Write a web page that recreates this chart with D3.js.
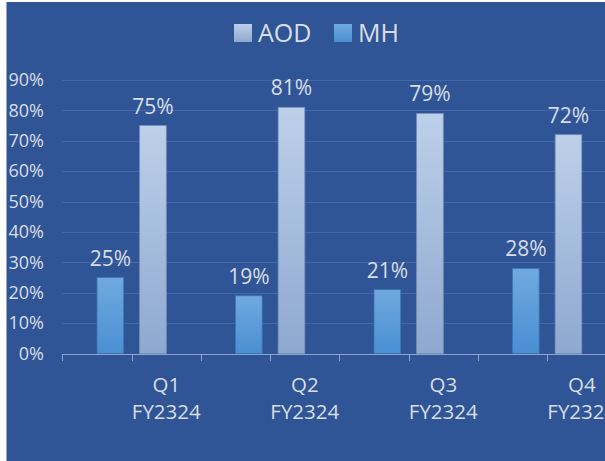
<!DOCTYPE html>
<html>
<head>
<meta charset="utf-8">
<script src="https://cdn.jsdelivr.net/npm/d3@7"></script>
<style>
  body { margin: 0; background: #fff; }
  svg text { font-family: "Open Sans", sans-serif; fill: #d9dde5; }
</style>
</head>
<body>
<div id="chart"></div>
<script>
var quarters = ['Q1', 'Q2', 'Q3', 'Q4'];
var quarterSub = 'FY2324';
var seriesNames = ['MH', 'AOD'];
var mhValues = [0.25, 0.19, 0.21, 0.28];
var aodValues = [0.75, 0.81, 0.79, 0.72];
var yTicks = [0, 0.1, 0.2, 0.3, 0.4, 0.5, 0.6, 0.7, 0.8, 0.9];
var legendOrder = ['AOD', 'MH'];

var width = 605;
var height = 461;

var svg = d3.select('#chart')
    .append('svg')
    .attr('width', width)
    .attr('height', height);

// gradients for the bars
var defs = svg.append('defs');
function gradient(id, top, bottom) {
    var g = defs.append('linearGradient')
        .attr('id', id)
        .attr('x1', 0).attr('y1', 0)
        .attr('x2', 0).attr('y2', 1);
    g.append('stop').attr('offset', '0%').attr('stop-color', top);
    g.append('stop').attr('offset', '100%').attr('stop-color', bottom);
}
gradient('grad_MH', '#70a9df', '#4a8fd3');
gradient('grad_AOD', '#bdd0ea', '#8ea8cf');

var colors = { MH: 'url(#grad_MH)', AOD: 'url(#grad_AOD)' };
var strokes = { MH: '#3c76b4', AOD: '#7a93bd' };

// background with thin white border on top/left
svg.append('rect')
    .attr('x', 0).attr('y', 0)
    .attr('width', width).attr('height', height)
    .style('fill', '#ffffff');
svg.append('rect')
    .attr('x', 6).attr('y', 2)
    .attr('width', width - 6).attr('height', height - 2)
    .style('fill', '#2f5597');
svg.append('line')
    .attr('x1', 6.5).attr('x2', 6.5)
    .attr('y1', 2).attr('y2', height)
    .style('stroke', '#9aa4b4')
    .style('stroke-width', 1);

var x0 = d3.scaleBand()
    .domain(quarters)
    .range([62.4, 616.4])
    .paddingInner(0.5)
    .paddingOuter(0.25);

var x1 = d3.scaleBand()
    .domain(seriesNames)
    .range([0, x0.bandwidth()])
    .paddingInner(0.376);

var y = d3.scaleLinear()
    .domain([0, 0.9])
    .range([353.5, 80]);

var axisLeft = x0.range()[0];

// gridlines
svg.append('g')
    .selectAll('line')
    .data(yTicks.filter(function(d) { return d > 0; }))
    .enter()
    .append('line')
    .attr('x1', axisLeft)
    .attr('x2', width)
    .attr('y1', function(d) { return Math.round(y(d)) + 0.5; })
    .attr('y2', function(d) { return Math.round(y(d)) + 0.5; })
    .style('stroke', '#4469aa')
    .style('stroke-width', 1);

// y axis labels
var yAxis = d3.axisLeft(y)
    .tickValues(yTicks)
    .tickSize(0)
    .tickPadding(0)
    .tickFormat(d3.format('.0%'));

var yg = svg.append('g')
    .attr('transform', 'translate(44,0)')
    .call(yAxis);
yg.select('.domain').remove();
yg.selectAll('text')
    .attr('font-size', '18px')
    .style('fill', '#d9dde5');

// bars
var rows = quarters.map(function(q, i) {
    return { quarter: q, MH: mhValues[i], AOD: aodValues[i] };
});

var groups = svg.append('g')
    .selectAll('g')
    .data(rows)
    .enter()
    .append('g')
    .attr('transform', function(d) { return 'translate(' + x0(d.quarter) + ',0)'; });

groups.selectAll('rect')
    .data(function(d) {
        return seriesNames.map(function(s) { return { key: s, value: d[s] }; });
    })
    .enter()
    .append('rect')
    .attr('x', function(d) { return x1(d.key); })
    .attr('width', x1.bandwidth())
    .attr('y', function(d) { return y(d.value); })
    .attr('height', function(d) { return y(0) - y(d.value); })
    .style('fill', function(d) { return colors[d.key]; })
    .style('stroke', function(d) { return strokes[d.key]; })
    .style('stroke-width', 0.8);

// value labels
groups.selectAll('text')
    .data(function(d) {
        return seriesNames.map(function(s) { return { key: s, value: d[s] }; });
    })
    .enter()
    .append('text')
    .attr('x', function(d) { return x1(d.key) + x1.bandwidth() / 2; })
    .attr('y', function(d) { return y(d.value) - 12; })
    .attr('text-anchor', 'middle')
    .attr('font-size', '21px')
    .text(function(d) { return d3.format('.0%')(d.value); });

// x axis line and ticks (ticks every half step)
var step = x0.step();
var tickPos = d3.range(0, 9).map(function(k) { return axisLeft + k * step / 2; });

svg.append('line')
    .attr('x1', axisLeft)
    .attr('x2', width)
    .attr('y1', 354.5)
    .attr('y2', 354.5)
    .style('stroke', '#8ea3c8')
    .style('stroke-width', 1.2);

svg.append('g')
    .selectAll('line')
    .data(tickPos)
    .enter()
    .append('line')
    .attr('x1', function(d) { return Math.round(d) + 0.5; })
    .attr('x2', function(d) { return Math.round(d) + 0.5; })
    .attr('y1', 354)
    .attr('y2', 361)
    .style('stroke', '#8ea3c8')
    .style('stroke-width', 1);

// category labels
var catLabels = svg.append('g')
    .selectAll('text')
    .data(quarters)
    .enter()
    .append('text')
    .attr('text-anchor', 'middle')
    .attr('font-size', '20.5px')
    .attr('transform', function(d) {
        return 'translate(' + (x0(d) + x0.bandwidth() / 2 + step / 4) + ',0)';
    });
catLabels.append('tspan')
    .attr('x', 0)
    .attr('y', 392)
    .text(function(d) { return d; });
catLabels.append('tspan')
    .attr('x', 0)
    .attr('y', 419)
    .text(quarterSub);

// legend
var legendX = [234, 334];
var legend = svg.append('g')
    .selectAll('g')
    .data(legendOrder)
    .enter()
    .append('g')
    .attr('transform', function(d, i) { return 'translate(' + legendX[i] + ',24)'; });

legend.append('rect')
    .attr('width', 18)
    .attr('height', 18)
    .style('fill', function(d) { return colors[d]; });

legend.append('text')
    .attr('x', 24)
    .attr('y', 18)
    .attr('font-size', '25px')
    .text(function(d) { return d; });
</script>
</body>
</html>
